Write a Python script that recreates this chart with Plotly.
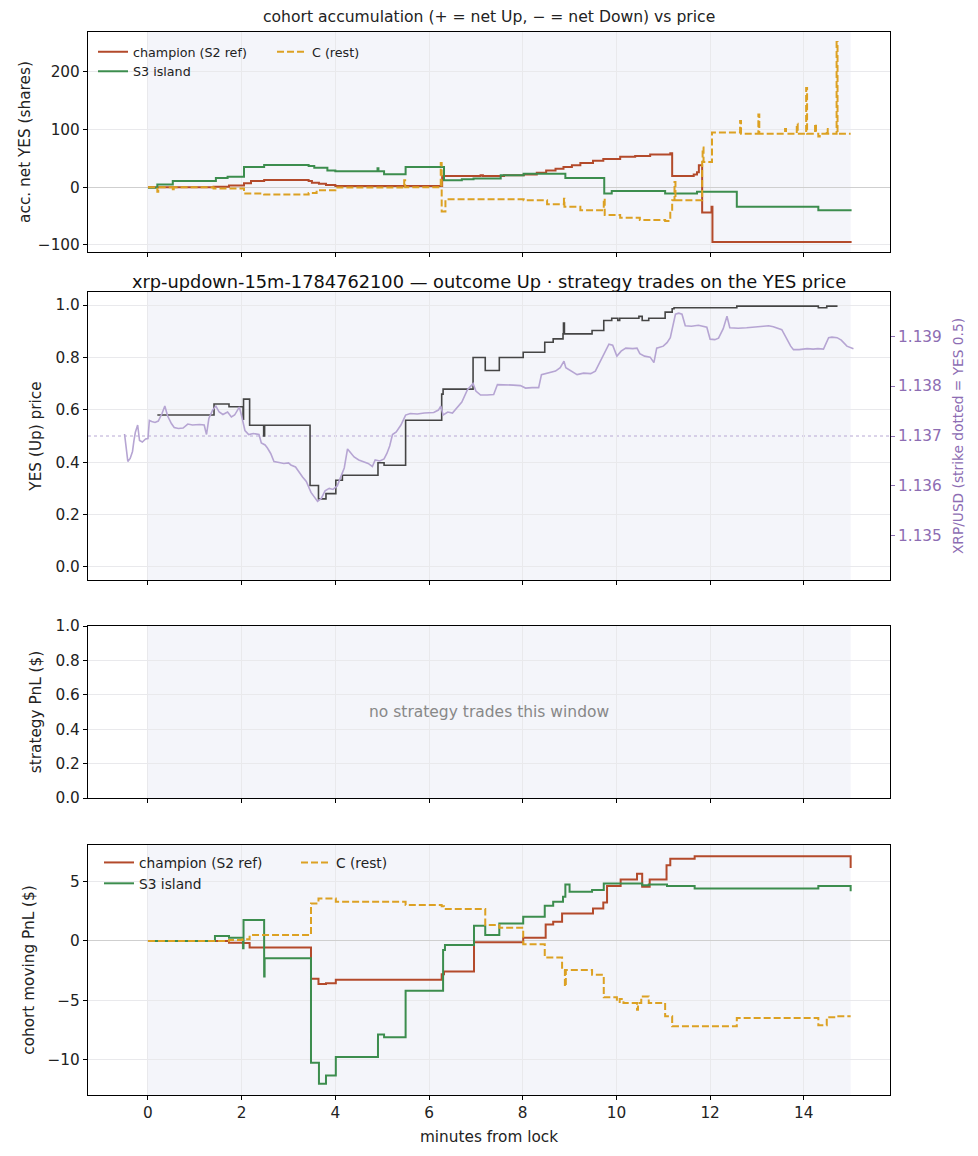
import plotly.graph_objects as go

# ---- panel 1: cohort accumulation (net YES shares) ----
champ_acc_t = [0, 1.4, 1.73, 2.05, 2.2, 2.48, 3.43, 3.5, 3.65, 3.8, 4.0, 6.28, 7.1, 7.15, 7.6, 8.02, 8.3,
               8.5, 8.7, 8.87, 9.05, 9.23, 9.5, 9.72, 10.08, 10.4, 10.72, 11.15, 11.19, 11.65, 11.72,
               11.76, 11.83, 12.03, 12.05, 15.02]
champ_acc_v = [0, 1, 3, 7, 11, 12.6, 11, 8, 6, 4, 2, 19.5, 21, 19.5, 21, 22, 25,
               29, 32, 35, 38, 42, 46, 49, 53, 54, 57, 59, 19.5, 22, 26,
               38, -44, -34, -95, -95]

s3_acc_t = [0, 0.2, 0.53, 1.45, 1.7, 2.05, 2.48, 3.43, 3.55, 3.83, 4.0, 4.9, 4.92, 5.04, 5.5, 6.32,
            6.7, 6.95, 7.53, 8.02, 8.91, 9.74, 9.9, 11.04, 11.72, 12.57, 14.31, 15.02]
s3_acc_v = [-1, 4.6, 11, 16, 18, 35, 38.5, 37, 34, 29, 27.6, 33, 27.6, 22.4, 35, 12,
            13.8, 15, 20.7, 23.6, 16, -11, -6.4, -11, -8, -34, -39.7, -39.7]

rest_acc_t = [0, 0.2, 0.22, 0.53, 0.55, 1.4, 2.05, 2.48, 3.43, 3.6, 4.0, 5.47, 5.49, 6.25, 6.27,
              6.35, 8.02, 8.52, 8.88, 8.89, 8.91, 9.23, 9.73, 9.75, 10.08, 10.5, 11.04, 11.15,
              11.19, 11.24, 11.26, 11.83, 11.84, 11.86, 12.04, 12.64, 12.66, 13.03, 13.05, 13.6,
              13.62, 13.85, 13.87, 14.05, 14.07, 14.24, 14.26, 14.31, 14.34, 14.49, 14.51, 14.7,
              14.72, 15.0]
rest_acc_v = [0, -8, 0, -7, 0, -2, -11, -12.6, -10, -5, -0.5, 12, 0, 42, -42,
              -21, -22.4, -29.3, -20, -34, -34, -39.7, -20, -48, -53, -57, -58.6, -42.5,
              -22.4, 9, -22.4, 44, 69, 44, 95, 115, 93, 126, 93, 101,
              93, 110, 93, 172, 93, 110, 93, 88, 93, 101, 93, 252,
              93, 93]

# ---- panel 2: YES price and XRP/USD ----
yes_t = [0.2, 1.41, 1.73, 2.03, 2.04, 2.17, 2.47, 2.49, 3.46, 3.64, 3.8, 4.01, 4.15, 4.91, 5.04,
         5.5, 6.27, 6.3, 6.94, 7.2, 7.5, 8.01, 8.47, 8.65, 8.86, 8.87, 8.89, 9.48, 9.73, 9.9,
         10.03, 10.07, 10.48, 10.55, 10.69, 11.04, 11.19, 11.23, 12.57, 14.31, 14.49, 14.72]
yes_v = [0.58, 0.622, 0.612, 0.564, 0.641, 0.541, 0.50, 0.541, 0.311, 0.26, 0.28, 0.331, 0.35, 0.398, 0.388,
         0.56, 0.66, 0.679, 0.80, 0.75, 0.80, 0.82, 0.858, 0.871, 0.89, 0.931, 0.89, 0.903, 0.941, 0.95,
         0.941, 0.95, 0.957, 0.941, 0.95, 0.973, 0.986, 0.99, 0.996, 0.99, 0.996, 0.996]

xrp_t = [-0.5, -0.47, -0.43, -0.38, -0.33, -0.3, -0.27, -0.22, -0.18, -0.12, -0.05, 0.0, 0.03, 0.08,
         0.15, 0.22, 0.3, 0.36, 0.42, 0.5, 0.56, 0.65, 0.75, 0.85, 0.95, 1.1, 1.2, 1.25, 1.3, 1.38,
         1.45, 1.52, 1.6, 1.7, 1.78, 1.85, 1.95, 2.0, 2.07, 2.15, 2.25, 2.37, 2.42, 2.5, 2.55, 2.62,
         2.69, 2.8, 2.9, 3.0, 3.05, 3.15, 3.23, 3.3, 3.38, 3.48, 3.55, 3.62, 3.7, 3.78, 3.87, 3.95,
         4.04, 4.12, 4.19, 4.26, 4.33, 4.4, 4.5, 4.6, 4.7, 4.79, 4.85, 4.95, 5.04, 5.1, 5.16, 5.22,
         5.3, 5.4, 5.5, 5.6, 5.75, 5.9, 5.96, 6.1, 6.2, 6.25, 6.3, 6.4, 6.5, 6.6, 6.7, 6.82, 6.94,
         7.0, 7.1, 7.24, 7.38, 7.46, 7.6, 7.8, 7.95, 8.06, 8.2, 8.34, 8.4, 8.55, 8.7, 8.8, 8.88,
         8.92, 9.05, 9.16, 9.3, 9.45, 9.55, 9.69, 9.78, 9.84, 9.92, 10.01, 10.1, 10.2, 10.35, 10.44,
         10.5, 10.6, 10.72, 10.8, 10.86, 11.0, 11.08, 11.15, 11.26, 11.33, 11.4, 11.47, 11.6, 11.75,
         11.93, 12.0, 12.1, 12.18, 12.28, 12.36, 12.42, 12.6, 12.78, 12.95, 13.14, 13.25, 13.35,
         13.53, 13.64, 13.72, 13.78, 13.9, 14.07, 14.2, 14.3, 14.42, 14.53, 14.6, 14.71, 14.8,
         14.92, 15.06]
xrp_p = [1.13704, 1.13680, 1.13649, 1.13655, 1.13669, 1.13690, 1.13707, 1.13722, 1.13691, 1.13688,
         1.13694, 1.13695, 1.13731, 1.13729, 1.13727, 1.13730, 1.13745, 1.13760, 1.13740, 1.13725,
         1.13717, 1.13715, 1.13716, 1.13724, 1.13722, 1.13723, 1.13722, 1.13703, 1.13735, 1.13752,
         1.13760, 1.13748, 1.13743, 1.13748, 1.13738, 1.13742, 1.13758, 1.13740, 1.13711, 1.13703,
         1.13705, 1.13703, 1.13686, 1.13682, 1.13676, 1.13665, 1.13649, 1.13647, 1.13645, 1.13646,
         1.13642, 1.13638, 1.13626, 1.13618, 1.13609, 1.13587, 1.13578, 1.13569, 1.13575, 1.13590,
         1.13595, 1.13593, 1.13600, 1.13620, 1.13636, 1.13674, 1.13665, 1.13658, 1.13652, 1.13648,
         1.13645, 1.13639, 1.13652, 1.13650, 1.13654, 1.13665, 1.13680, 1.13703, 1.13708, 1.13722,
         1.13742, 1.13745, 1.13744, 1.13746, 1.13746, 1.13747, 1.13752, 1.13760, 1.13742, 1.13748,
         1.13746, 1.13756, 1.13768, 1.13793, 1.13805, 1.13790, 1.13782, 1.13782, 1.13783, 1.13803,
         1.13803, 1.13802, 1.13801, 1.13796, 1.13797, 1.13797, 1.13823, 1.13826, 1.13830, 1.13837,
         1.13850, 1.13837, 1.13830, 1.13823, 1.13826, 1.13825, 1.13830, 1.13857, 1.13875, 1.13884,
         1.13882, 1.13860, 1.13870, 1.13876, 1.13875, 1.13876, 1.13865, 1.13860, 1.13858, 1.13847,
         1.13876, 1.13880, 1.13887, 1.13897, 1.13944, 1.13946, 1.13944, 1.13921, 1.13920, 1.13922,
         1.13918, 1.13894, 1.13893, 1.13896, 1.13915, 1.13940, 1.13917, 1.13916, 1.13917, 1.13919,
         1.13920, 1.13921, 1.13919, 1.13913, 1.13894, 1.13880, 1.13873, 1.13873, 1.13875, 1.13874,
         1.13875, 1.13874, 1.13897, 1.13898, 1.13897, 1.13892, 1.13880, 1.13875]
strike = 1.137

# ---- panel 4: cohort moving PnL ($) ----
champ_pnl_t = [0, 1.73, 2.02, 2.17, 3.48, 3.64, 3.8, 4.01, 6.27, 6.32, 6.96, 8.01, 8.49, 8.65, 8.84,
               9.5, 9.72, 9.8, 10.09, 10.44, 10.55, 10.71, 11.07, 11.15, 11.67, 15.0]
champ_pnl_v = [0, -0.14, -0.18, -0.56, -3.19, -3.64, -3.56, -3.28, -2.8, -2.58, -0.11, 0.28, 1.4, 1.62, 2.32,
               2.74, 3.25, 4.65, 5.18, 5.68, 4.57, 5.18, 6.39, 6.95, 7.14, 6.16]

s3_pnl_t = [0, 1.43, 1.73, 2.03, 2.04, 2.48, 2.49, 3.48, 3.65, 3.8, 4.01, 4.91, 5.04, 5.5, 6.3, 6.34,
            6.96, 7.2, 7.5, 8.01, 8.47, 8.65, 8.86, 8.91, 9.0, 9.48, 9.73, 10.55, 10.69, 11.08, 11.67,
            14.31, 15.0]
s3_pnl_v = [0, 0.42, 0.28, -0.62, 1.76, -3.0, -1.46, -10.28, -12.05, -11.35, -9.8, -7.9, -8.12, -4.2,
            -0.76, -0.34, 1.29, 0.5, 1.48, 2.04, 2.97, 3.31, 3.73, 4.76, 4.15, 4.3, 4.85, 4.7, 4.76,
            4.65, 4.43, 4.65, 4.2]

rest_pnl_t = [0, 1.73, 2.02, 2.17, 3.48, 3.64, 4.01, 5.5, 6.27, 6.32, 7.2, 7.5, 8.01, 8.47, 8.84, 8.9,
              8.92, 9.48, 9.73, 10.01, 10.07, 10.15, 10.44, 10.46, 10.53, 10.69, 11.04, 11.19, 12.57,
              14.31, 14.49, 14.7, 15.0]
rest_pnl_v = [0, 0.08, 0.15, 0.5, 3.17, 3.59, 3.31, 3.03, 2.94, 2.69, 1.34, 1.12, -0.28, -1.4, -2.44,
              -3.84, -2.44, -2.86, -4.76, -5.15, -4.9, -5.24, -5.8, -5.24, -4.68, -5.24, -6.36, -7.2,
              -6.5, -7.12, -6.44, -6.36, -6.36]

FONT = "DejaVu Sans"
RED = "#b34a2b"
GREEN = "#3c8d4e"
GOLD = "#dca123"
PURPLE = "#8d6db3"

fig = go.Figure()


def cohort(t, v, name, color, xa, ya, legend, dash=None, show=True):
    fig.add_trace(go.Scatter(
        x=t, y=v, name=name, mode="lines", line_shape="hv",
        line=dict(color=color, width=2, dash=dash),
        xaxis=xa, yaxis=ya, legend=legend, showlegend=show))


cohort(champ_acc_t, champ_acc_v, "champion (S2 ref)", RED, "x", "y", "legend")
cohort(s3_acc_t, s3_acc_v, "S3 island", GREEN, "x", "y", "legend")
cohort(rest_acc_t, rest_acc_v, "C (rest)", GOLD, "x", "y", "legend2", dash="7px,3px")

fig.add_trace(go.Scatter(x=xrp_t, y=xrp_p, mode="lines", line=dict(color="#b6a5d3", width=1.6),
                         xaxis="x2", yaxis="y5", showlegend=False))
fig.add_trace(go.Scatter(x=yes_t, y=yes_v, mode="lines", line_shape="hv",
                         line=dict(color="#454545", width=1.6),
                         xaxis="x2", yaxis="y2", showlegend=False))

cohort(champ_pnl_t, champ_pnl_v, "champion (S2 ref)", RED, "x4", "y4", "legend3")
cohort(s3_pnl_t, s3_pnl_v, "S3 island", GREEN, "x4", "y4", "legend3")
cohort(rest_pnl_t, rest_pnl_v, "C (rest)", GOLD, "x4", "y4", "legend4", dash="7px,3px")

W, H = 978, 1156


def px(x):
    return x / W


def py(y):
    return 1 - y / H


xdom = [px(88), px(890)]


def ydom(top, bottom):
    return [py(bottom), py(top)]


TXT = 15.3
tick_font = dict(family=FONT, size=TXT, color="#222")
xbase = dict(range=[-1.28, 15.84], dtick=2, tick0=0, showgrid=True, gridcolor="#e9e9ec",
             zeroline=False, showline=True, linecolor="black", linewidth=1.2, mirror=True,
             ticks="outside", ticklen=4, tickcolor="black", tickfont=tick_font, domain=xdom,
             automargin=False)
ybase = dict(showgrid=True, gridcolor="#e9e9ec", showline=True, linecolor="black",
             linewidth=1.2, mirror=True, ticks="outside", ticklen=4, tickcolor="black",
             tickfont=tick_font, zeroline=False, automargin=False)

axis_title = dict(family=FONT, size=TXT, color="#222")

fig.update_layout(
    width=W, height=H, autosize=False,
    margin=dict(l=0, r=0, t=0, b=0, pad=0),
    paper_bgcolor="white", plot_bgcolor="white",
    font=dict(family=FONT, color="#222"),
    xaxis=dict(xbase, anchor="y", showticklabels=False),
    xaxis2=dict(xbase, anchor="y2", showticklabels=False),
    xaxis3=dict(xbase, anchor="y3", showticklabels=False),
    xaxis4=dict(xbase, anchor="y4",
                title=dict(text="minutes from lock", font=axis_title, standoff=9)),
    yaxis=dict(ybase, domain=ydom(32, 252), anchor="x", range=[-112.35, 269.35], dtick=100,
               zeroline=True, zerolinecolor="#cfcfcf", zerolinewidth=1,
               title=dict(text="acc. net YES (shares)", font=axis_title, standoff=3)),
    yaxis2=dict(ybase, domain=ydom(292, 580), anchor="x2", range=[-0.05, 1.05], dtick=0.2,
                tickformat=".1f", title=dict(text="YES (Up) price", font=axis_title, standoff=10)),
    yaxis5=dict(overlaying="y2", side="right", anchor="x2", range=[1.134115, 1.139885],
                dtick=0.001, tick0=1.135, tickformat=".3f", showgrid=False, zeroline=False,
                ticks="outside", ticklen=4, tickcolor=PURPLE, automargin=False,
                tickfont=dict(family=FONT, size=TXT, color=PURPLE),
                title=dict(text="XRP/USD (strike dotted = YES 0.5)",
                           font=dict(family=FONT, size=13.75, color=PURPLE), standoff=12)),
    yaxis3=dict(ybase, domain=ydom(626, 798), anchor="x3", range=[0, 1], dtick=0.2,
                tickformat=".1f", title=dict(text="strategy PnL ($)", font=axis_title, standoff=10)),
    yaxis4=dict(ybase, domain=ydom(845, 1095), anchor="x4", range=[-13.0, 8.1], dtick=5,
                zeroline=True, zerolinecolor="#cfcfcf", zerolinewidth=1,
                title=dict(text="cohort moving PnL ($)", font=axis_title, standoff=9)),
)

leg = dict(bgcolor="rgba(0,0,0,0)", borderwidth=0, xanchor="left", yanchor="top",
           orientation="v", itemwidth=30, tracegroupgap=0)
fig.update_layout(
    legend=dict(leg, x=px(93), y=py(37), font=dict(family=FONT, size=12.7, color="#222")),
    legend2=dict(leg, x=px(272), y=py(37), font=dict(family=FONT, size=12.7, color="#222")),
    legend3=dict(leg, x=px(99), y=py(847), font=dict(family=FONT, size=13.75, color="#222")),
    legend4=dict(leg, x=px(296), y=py(847), font=dict(family=FONT, size=13.75, color="#222")),
)

# lock window shading (0..15 min) on every panel
shapes = []
for xa, ya in [("x", "y"), ("x2", "y2"), ("x3", "y3"), ("x4", "y4")]:
    shapes.append(dict(type="rect", xref=xa, yref=ya + " domain", x0=0, x1=15, y0=0, y1=1,
                       fillcolor="#f4f5fa", line=dict(width=0), layer="below"))
# strike line (YES 0.5)
shapes.append(dict(type="line", xref="x2 domain", yref="y2", x0=0, x1=1, y0=0.5, y1=0.5,
                   line=dict(color="#b8a8d4", width=1, dash="dot"), layer="below"))
fig.update_layout(shapes=shapes)

fig.add_annotation(text="cohort accumulation (+ = net Up, \u2212 = net Down) vs price",
                   xref="x domain", yref="paper", x=0.5, y=py(17), showarrow=False,
                   font=dict(family=FONT, size=15.6, color="#222"), yanchor="middle")
fig.add_annotation(text="xrp-updown-15m-1784762100 \u2014 outcome Up \u00b7 strategy trades on the YES price",
                   xref="x2 domain", yref="paper", x=0.5, y=py(282), showarrow=False,
                   font=dict(family=FONT, size=17.8, color="#111"), yanchor="middle")
fig.add_annotation(text="no strategy trades this window", xref="x3 domain", yref="y3 domain",
                   x=0.5, y=0.5, showarrow=False, font=dict(family=FONT, size=15.5, color="#888"))

# page body margin off so the 978x1156 figure sits flush in the window
fig.write_html("out.html", config={"displayModeBar": False},
               post_script="document.body.style.margin='0';")
